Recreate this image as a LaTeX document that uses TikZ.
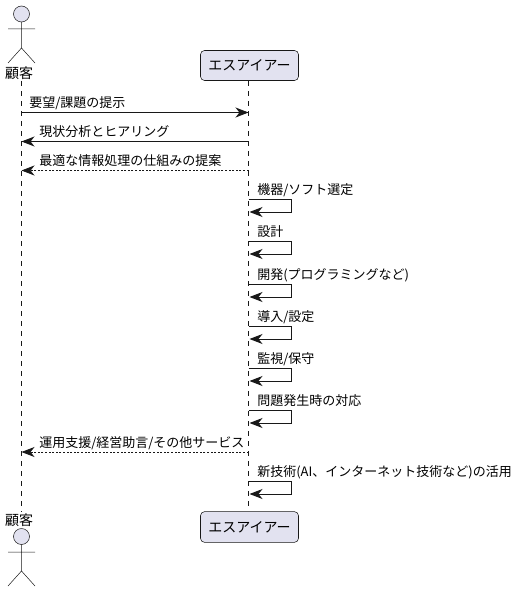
\documentclass[tikz,border=0pt]{standalone}
\usepackage{fontspec}
\setmainfont{Noto Sans CJK JP}
\usetikzlibrary{arrows.meta}
\definecolor{pbox}{HTML}{E2E2F0}
\definecolor{pline}{HTML}{181818}
\tikzset{
  x=0.75pt,y=-0.75pt,
  msgtext/.style={anchor=base west,inner sep=0pt,font=\fontsize{9.75pt}{12pt}\selectfont,text=black},
  nametext/.style={inner sep=0pt,font=\fontsize{10.5pt}{12pt}\selectfont,text=black},
  partbox/.style={draw=pline,line width=0.4pt,fill=pbox,rounded corners=3pt,minimum width=73.5pt,inner sep=0pt,font=\fontsize{10.5pt}{12pt}\selectfont,text=black},
  lifeline/.style={draw=pline,line width=0.375pt,dash pattern=on 3.75pt off 3.75pt},
  stick/.style={draw=pline,line width=0.375pt},
  headc/.style={circle,draw=pline,line width=0.375pt,fill=pbox,minimum size=12pt,inner sep=0pt},
  msg/.style={draw=pline,line width=0.75pt,-{Stealth[length=9.75pt,width=7.5pt,inset=3pt,fill=pline]}},
  reply/.style={msg,line width=0.6pt,dash pattern=on 1.5pt off 1.2pt},
}
\begin{document}
\begin{tikzpicture}
\useasboundingbox (0,0) rectangle (519,592);
% participants
\node[headc] (h1) at (21.5,14) {};
\coordinate (b1) at (21.5,48);
\coordinate (armL1) at (8,29); \coordinate (armR1) at (35,29);
\coordinate (legL1) at (8,63); \coordinate (legR1) at (35,63);
\draw[stick] (h1.south) -- (b1) (armL1) -- (armR1) (legL1) -- (b1) -- (legR1);
\node[nametext] (ctop) at (19,73.5) {顧客};
\node[nametext] (cbot) at (19,520.5) {顧客};
\node[headc] (h2) at (21.5,536.5) {};
\coordinate (b2) at (21.5,571);
\coordinate (armL2) at (8,552); \coordinate (armR2) at (35,552);
\coordinate (legL2) at (8,586); \coordinate (legR2) at (35,586);
\draw[stick] (h2.south) -- (b2) (armL2) -- (armR2) (legL2) -- (b2) -- (legR2);
\node[partbox,minimum height=22.5pt] (stop) at (249.5,65.5) {エスアイアー};
\node[partbox,minimum height=23pt] (sbot) at (249.5,527) {エスアイアー};
% lifelines
\coordinate (lc1) at (21.5,81); \coordinate (lc2) at (21.5,512);
\coordinate (ls1) at (248.5,81); \coordinate (ls2) at (248.5,510);
\draw[lifeline] (lc1) -- (lc2);
\draw[lifeline] (ls1) -- (ls2);
% messages between lifelines
\foreach \n/\y in {1/112.5,2/141.5,3/170.5,4/452}{
  \coordinate (c\n) at (21.5,\y);
  \coordinate (s\n) at (248.5,\y);
}
\draw[msg] (c1) -- (s1);
\draw[msg] (s2) -- (c2);
\draw[reply] (s3) -- (c3);
\draw[reply] (s4) -- (c4);
\node[msgtext] (m1) at (29,107.5) {要望/課題の提示};
\node[msgtext] (m2) at (39,136.5) {現状分析とヒアリング};
\node[msgtext] (m3) at (39,165.5) {最適な情報処理の仕組みの提案};
\node[msgtext] (m4) at (39,447.5) {運用支援/経営助言/その他サービス};
% self messages
\foreach \n/\t/\b/\l in {
  a/199.5/212/機器{/}ソフト選定,
  b/241.5/254/設計,
  c/284/297/開発(プログラミングなど),
  d/326/339/導入{/}設定,
  e/368/381/監視{/}保守,
  f/410/423/問題発生時の対応,
  g/481.5/494/新技術(AI、インターネット技術など)の活用}{
  \coordinate (st\n) at (248.5,\t);
  \coordinate (cr\n) at (291.5,\t);
  \coordinate (cs\n) at (291.5,\b);
  \coordinate (en\n) at (249.5,\b);
  \draw[msg] (st\n) -- (cr\n) -- (cs\n) -- (en\n);
  \node[msgtext] (t\n) at (257,\t-4.7) {\l};
}
\end{tikzpicture}
\end{document}
